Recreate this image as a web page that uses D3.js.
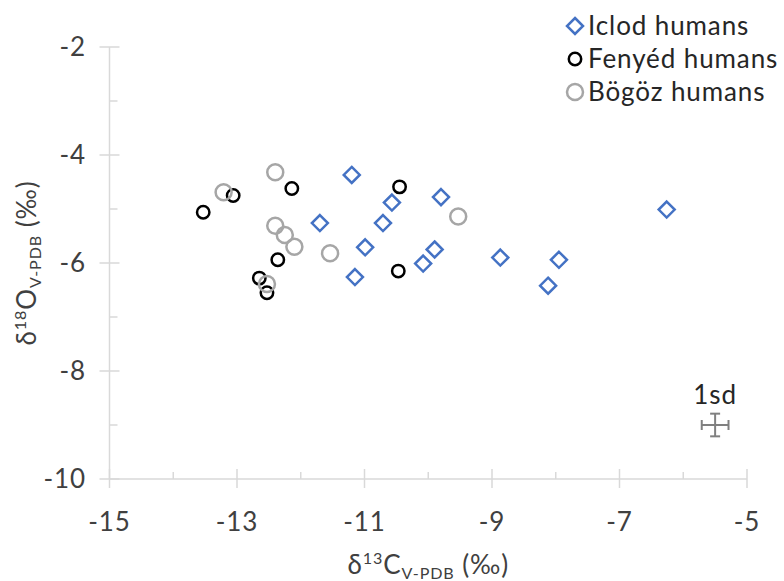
<!DOCTYPE html>
<html>
<head>
<meta charset="utf-8">
<script src="https://cdn.jsdelivr.net/npm/d3@7"></script>
<style>
  body { margin: 0; background: #fff; }
  text { font-family: Lato, "Open Sans", sans-serif; letter-spacing: 0.9px; }
</style>
</head>
<body>
<svg id="chart" width="784" height="581"></svg>
<script>
// Axis ticks
const xMajor = [-15, -13, -11, -9, -7, -5];
const xMinor = [-14, -12, -10, -8, -6];
const yMajor = [-10, -8, -6, -4, -2];
const yMinor = [-9, -7, -5, -3];

// Iclod humans
const iclodC = [-11.20, -11.70, -10.99, -11.15, -10.57, -10.71, -10.08, -9.90, -9.80, -8.87, -8.12, -7.95, -6.26];
const iclodO = [-4.37, -5.26, -5.71, -6.26, -4.88, -5.26, -6.01, -5.75, -4.78, -5.90, -6.42, -5.94, -5.01];

// Fenyéd humans
const fenyedC = [-12.14, -13.06, -13.53, -12.36, -12.65, -12.53, -10.45, -10.47];
const fenyedO = [-4.62, -4.75, -5.06, -5.94, -6.28, -6.55, -4.59, -6.15];

// Bögöz humans
const bogozC = [-12.40, -13.21, -12.40, -12.25, -12.10, -11.54, -12.53, -9.53];
const bogozO = [-4.32, -4.69, -5.31, -5.48, -5.70, -5.82, -6.39, -5.14];

// Analytical uncertainty (1 sd) shown as a reference cross
const sdCenter = [-5.5, -9.0];
const sdC = 0.21;
const sdO = 0.21;

const seriesNames = ["Iclod humans", "Fenyéd humans", "Bögöz humans"];

const svg = d3.select("#chart");
const x = d3.scaleLinear().domain([-15, -5]).range([109.5, 747]);
const y = d3.scaleLinear().domain([-10, -2]).range([479, 47]);

const axisColor = "#d9d9d9";
const labelColor = "#404040";
const fontSize = 26;

// Axes
const ax = svg.append("g").attr("stroke", axisColor).attr("stroke-width", 1.5).attr("fill", "none");
ax.append("line").attr("x1", x(-15)).attr("x2", x(-5)).attr("y1", y(-10)).attr("y2", y(-10));
ax.append("line").attr("x1", x(-15)).attr("x2", x(-15)).attr("y1", y(-10)).attr("y2", y(-2));
xMajor.forEach(v => ax.append("line").attr("x1", x(v)).attr("x2", x(v)).attr("y1", y(-10) - 10).attr("y2", y(-10) + 9));
xMinor.forEach(v => ax.append("line").attr("x1", x(v)).attr("x2", x(v)).attr("y1", y(-10) - 7).attr("y2", y(-10)));
yMajor.forEach(v => ax.append("line").attr("x1", x(-15) - 10).attr("x2", x(-15) + 10).attr("y1", y(v)).attr("y2", y(v)));
yMinor.forEach(v => ax.append("line").attr("x1", x(-15)).attr("x2", x(-15) + 8).attr("y1", y(v)).attr("y2", y(v)));

// Tick labels
svg.append("g").selectAll("text").data(xMajor).join("text")
  .attr("x", d => x(d)).attr("y", 531)
  .attr("text-anchor", "middle").attr("font-size", fontSize).attr("fill", labelColor)
  .text(d => d);
svg.append("g").selectAll("text").data(yMajor).join("text")
  .attr("x", 86).attr("y", d => y(d)).attr("dy", "0.35em")
  .attr("text-anchor", "end").attr("font-size", fontSize).attr("fill", labelColor)
  .text(d => d);

// Axis titles with super/subscripts
function isoTitle(g, mass, elem) {
  g.append("tspan").text("δ");
  g.append("tspan").attr("font-size", fontSize * 0.62).attr("dy", -10).text(mass);
  g.append("tspan").attr("dy", 10).text(elem);
  g.append("tspan").attr("font-size", fontSize * 0.62).attr("dy", 5).text("V-PDB");
  g.append("tspan").attr("dy", -5).text(" (‰)");
}
const xt = svg.append("text").attr("x", x(-10)).attr("y", 574)
  .attr("text-anchor", "middle").attr("font-size", fontSize).attr("fill", labelColor);
isoTitle(xt, "13", "C");
const yt = svg.append("text").attr("transform", `translate(36,${y(-6)}) rotate(-90)`)
  .attr("text-anchor", "middle").attr("font-size", fontSize).attr("fill", labelColor);
isoTitle(yt, "18", "O");

// Marker drawers
const blue = "#4472c4", black = "#000000", gray = "#a6a6a6";
function diamond(g, cx, cy) {
  const s = 8;
  g.append("path").attr("d", `M${cx},${cy - s}L${cx + s},${cy}L${cx},${cy + s}L${cx - s},${cy}Z`)
    .attr("fill", "none").attr("stroke", blue).attr("stroke-width", 2.5);
}
function ring(g, cx, cy, r, color) {
  g.append("circle").attr("cx", cx).attr("cy", cy).attr("r", r)
    .attr("fill", "none").attr("stroke", color).attr("stroke-width", 2.5);
}

const pts = svg.append("g");
iclodC.forEach((c, i) => diamond(pts, x(c), y(iclodO[i])));
fenyedC.forEach((c, i) => ring(pts, x(c), y(fenyedO[i]), 6.2, black));
bogozC.forEach((c, i) => ring(pts, x(c), y(bogozO[i]), 8, gray));

// 1 sd cross
const sdg = svg.append("g").attr("stroke", "#808080").attr("stroke-width", 2);
const cx0 = x(sdCenter[0]), cy0 = y(sdCenter[1]);
sdg.append("line").attr("x1", x(sdCenter[0] - sdC)).attr("x2", x(sdCenter[0] + sdC)).attr("y1", cy0).attr("y2", cy0);
sdg.append("line").attr("x1", cx0).attr("x2", cx0).attr("y1", y(sdCenter[1] - sdO)).attr("y2", y(sdCenter[1] + sdO));
[sdCenter[0] - sdC, sdCenter[0] + sdC].forEach(v => sdg.append("line").attr("x1", x(v)).attr("x2", x(v)).attr("y1", cy0 - 5).attr("y2", cy0 + 5));
[sdCenter[1] - sdO, sdCenter[1] + sdO].forEach(v => sdg.append("line").attr("x1", cx0 - 5).attr("x2", cx0 + 5).attr("y1", y(v)).attr("y2", y(v)));
svg.append("text").attr("x", cx0).attr("y", 404).attr("text-anchor", "middle")
  .attr("font-size", fontSize).attr("fill", "#262626").text("1sd");

// Legend
const lg = svg.append("g");
const rowY = [26, 59, 92];
diamond(lg, 575, rowY[0]);
ring(lg, 575, rowY[1], 6.2, black);
ring(lg, 575, rowY[2], 8, gray);
seriesNames.forEach((n, i) => lg.append("text").attr("x", 588).attr("y", rowY[i]).attr("dy", "0.35em")
  .attr("font-size", fontSize).attr("fill", "#262626").text(n));
</script>
</body>
</html>
